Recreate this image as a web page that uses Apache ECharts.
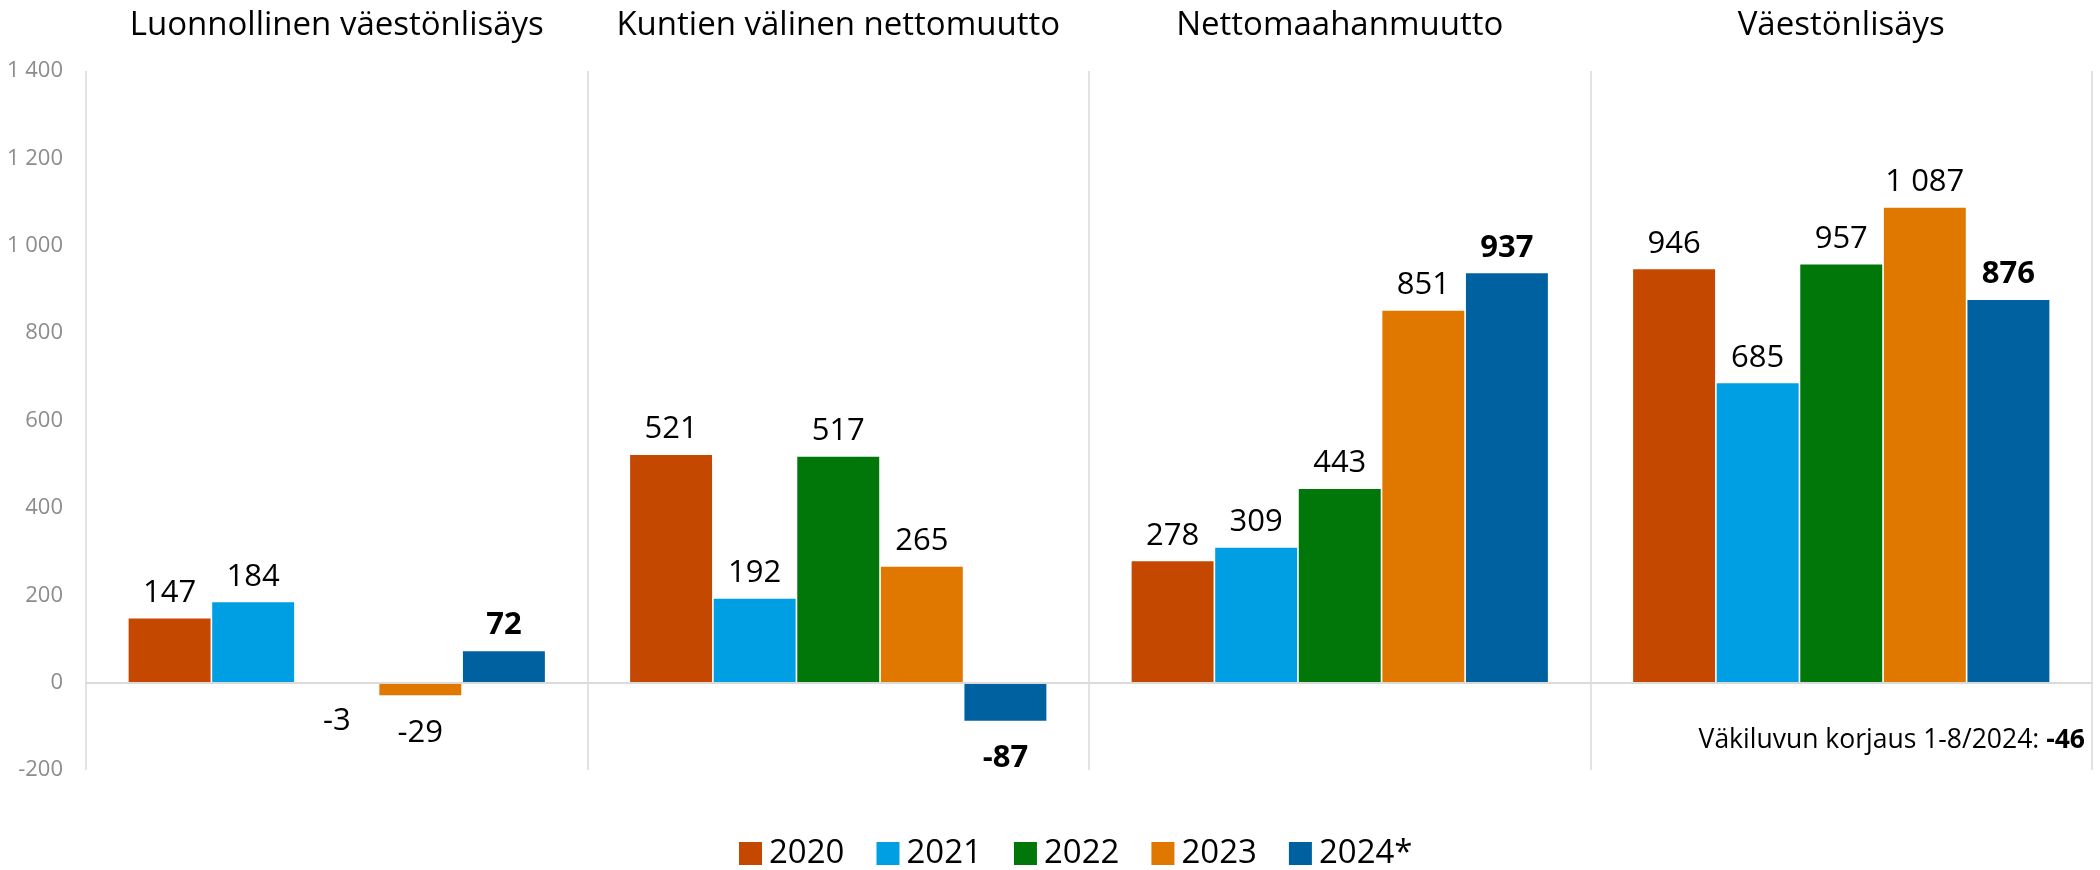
<!DOCTYPE html>
<html>
<head>
<meta charset="utf-8">
<script src="https://cdn.jsdelivr.net/npm/echarts@6/dist/echarts.min.js"></script>
<style>
  html, body { margin: 0; padding: 0; background: #ffffff; }
  #chart { width: 2100px; height: 870px; }
</style>
</head>
<body>
<div id="chart"></div>
<script>
// Väestönmuutoksen osatekijät vuosittain
const categories = [
  'Luonnollinen väestönlisäys',
  'Kuntien välinen nettomuutto',
  'Nettomaahanmuutto',
  'Väestönlisäys'
];
const years = ['2020', '2021', '2022', '2023', '2024*'];
const values2020 = [147, 521, 278, 946];
const values2021 = [184, 192, 309, 685];
const values2022 = [-3, 517, 443, 957];
const values2023 = [-29, 265, 851, 1087];
const values2024 = [72, -87, 937, 876];
const correctionLabel = 'Väkiluvun korjaus 1-8/2024: ';
const correctionValue = -46;
const yTicks = { min: -200, max: 1400, step: 200 };

const seriesValues = [values2020, values2021, values2022, values2023, values2024];
const colors = ['#C54800', '#009FE3', '#007708', '#E07800', '#0061A0'];
const FONT = '"Open Sans", "Noto Sans", sans-serif';

function fmt(v) {
  const s = String(Math.abs(v)).replace(/\B(?=(\d{3})+(?!\d))/g, ' ');
  return (v < 0 ? '-' : '') + s;
}

const series = years.map(function (year, i) {
  const bold = i === years.length - 1;
  return {
    name: year,
    type: 'bar',
    xAxisIndex: 0,
    barGap: '2%',
    barCategoryGap: '17%',
    itemStyle: { color: colors[i] },
    label: {
      show: true,
      distance: 10,
      color: '#000000',
      fontFamily: FONT,
      fontSize: 31,
      fontWeight: bold ? 'bold' : 'normal',
      formatter: function (p) { return fmt(p.value); }
    },
    data: seriesValues[i].map(function (v) {
      return v < 0
        ? { value: v, label: { position: 'bottom', distance: 22 } }
        : { value: v, label: { position: 'top' } };
    })
  };
});

const chart = echarts.init(document.getElementById('chart'), null, { renderer: 'canvas' });
chart.setOption({
  animation: false,
  backgroundColor: '#ffffff',
  grid: { left: 86, right: 8, top: 71, bottom: 100, containLabel: false },
  legend: {
    data: years,
    left: 734,
    top: 832,
    icon: 'rect',
    itemWidth: 23,
    itemHeight: 23,
    itemGap: 32,
    textStyle: { fontFamily: FONT, fontSize: 33, color: '#000000', padding: [0, 0, 0, 2] }
  },
  xAxis: [
    {
      type: 'category',
      data: categories,
      position: 'bottom',
      z: 3,
      axisLine: { show: true, onZero: true, lineStyle: { color: '#dadada', width: 2 } },
      axisTick: { show: false },
      axisLabel: { show: false },
      splitLine: { show: true, lineStyle: { color: '#e3e3e3', width: 2 } }
    },
    {
      type: 'category',
      data: categories,
      position: 'top',
      axisLine: { show: false },
      axisTick: { show: false },
      splitLine: { show: false },
      axisLabel: {
        show: true,
        interval: 0,
        margin: 29,
        color: '#000000',
        fontFamily: FONT,
        fontSize: 33
      }
    }
  ],
  yAxis: {
    type: 'value',
    min: yTicks.min,
    max: yTicks.max,
    interval: yTicks.step,
    axisLine: { show: false },
    axisTick: { show: false },
    splitLine: { show: false },
    axisLabel: {
      margin: 23,
      color: '#8c8c8c',
      fontFamily: FONT,
      fontSize: 22,
      formatter: function (v) { return fmt(v); }
    }
  },
  graphic: [
    {
      type: 'text',
      right: 15,
      top: 727,
      style: {
        text: '{n|' + correctionLabel + '}{b|' + fmt(correctionValue) + '}',
        rich: {
          n: { fontFamily: FONT, fontSize: 26.5, color: '#000000' },
          b: { fontFamily: FONT, fontSize: 26.5, color: '#000000', fontWeight: 'bold' }
        }
      }
    }
  ],
  series: series
});
</script>
</body>
</html>
